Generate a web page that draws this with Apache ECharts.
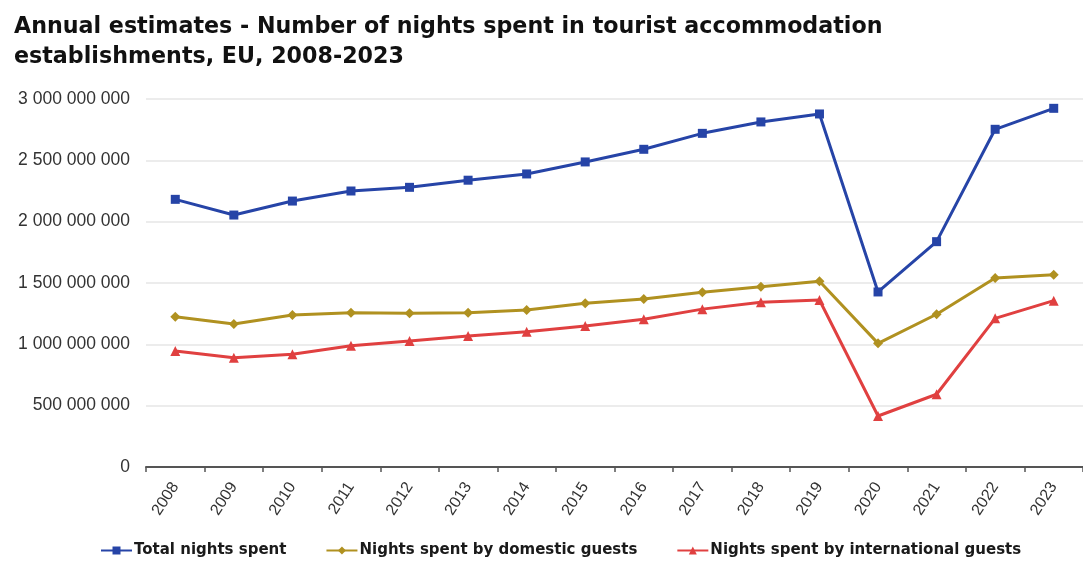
<!DOCTYPE html>
<html>
<head>
<meta charset="utf-8">
<script src="https://cdn.jsdelivr.net/npm/echarts@6/dist/echarts.min.js"></script>
<style>
  html, body { margin: 0; padding: 0; background: #ffffff; }
  #chart { width: 1083px; height: 561px; }
</style>
</head>
<body>
<div id="chart"></div>
<script>
// Years on the category axis
const years = ['2008','2009','2010','2011','2012','2013','2014','2015',
               '2016','2017','2018','2019','2020','2021','2022','2023'];

// Nights spent, EU, per year
const totalNights = [2182e6, 2054e6, 2168e6, 2250e6, 2280e6, 2338e6, 2389e6, 2487e6,
                     2590e6, 2720e6, 2813e6, 2878e6, 1427e6, 1837e6, 2753e6, 2924e6];
const domesticNights = [1225e6, 1166e6, 1239e6, 1258e6, 1253e6, 1257e6, 1280e6, 1334e6,
                        1370e6, 1425e6, 1469e6, 1514e6, 1008e6, 1245e6, 1541e6, 1568e6];
const internationalNights = [946e6, 891e6, 919e6, 989e6, 1027e6, 1068e6, 1102e6, 1150e6,
                             1205e6, 1287e6, 1344e6, 1361e6, 416e6, 593e6, 1212e6, 1356e6];

const seriesNames = ['Total nights spent', 'Nights spent by domestic guests',
                     'Nights spent by international guests'];

const FONT = '"Liberation Sans", Arial, sans-serif';
const BOLD_FONT = '"DejaVu Sans", "Liberation Sans", sans-serif';

// "3000000000" -> "3 000 000 000"
function spaced(v) {
  return String(Math.round(v)).replace(/\B(?=(\d{3})+(?!\d))/g, ' ');
}

function lineSeries(name, data, color, symbol, size) {
  return {
    name: name,
    type: 'line',
    data: data,
    symbol: symbol,
    symbolSize: size,
    showAllSymbol: true,
    lineStyle: { color: color, width: 3 },
    itemStyle: { color: color },
    emphasis: { disabled: true },
    animation: false
  };
}

const chart = echarts.init(document.getElementById('chart'), null, { renderer: 'canvas' });

chart.setOption({
  backgroundColor: '#ffffff',
  animation: false,
  title: {
    text: 'Annual estimates - Number of nights spent in tourist accommodation\nestablishments, EU, 2008-2023',
    left: 9,
    top: 7,
    textStyle: {
      fontFamily: BOLD_FONT,
      fontSize: 22.2,
      fontWeight: 'bold',
      color: '#111111',
      lineHeight: 30
    }
  },
  legend: {
    bottom: -2,
    left: 95,
    itemGap: 39,
    itemWidth: 31,
    itemHeight: 10,
    textStyle: {
      fontFamily: BOLD_FONT,
      fontSize: 15,
      fontWeight: 'bold',
      color: '#1a1a1a',
      padding: [0, 0, 0, -3]
    },
    data: seriesNames
  },
  grid: {
    left: 146,
    right: -8,
    top: 99,
    bottom: 94,
    containLabel: false
  },
  xAxis: {
    type: 'category',
    data: years,
    boundaryGap: true,
    axisLine: { show: true, lineStyle: { color: '#555555', width: 2 } },
    axisTick: { show: true, alignWithLabel: false, length: 5, lineStyle: { color: '#555555', width: 1.5 } },
    axisLabel: {
      rotate: 57,
      margin: 17,
      fontFamily: FONT,
      fontSize: 16,
      color: '#333333',
      interval: 0
    },
    splitLine: { show: false }
  },
  yAxis: {
    type: 'value',
    min: 0,
    max: 3000000000,
    interval: 500000000,
    axisLine: { show: false },
    axisTick: { show: false },
    axisLabel: {
      margin: 16,
      fontFamily: FONT,
      fontSize: 17.5,
      color: '#333333',
      formatter: spaced
    },
    splitLine: { show: true, lineStyle: { color: '#e6e6e6', width: 1.5 } }
  },
  series: [
    lineSeries(seriesNames[0], totalNights, '#2644A7', 'rect', 9),
    lineSeries(seriesNames[1], domesticNights, '#B09120', 'diamond', 10),
    lineSeries(seriesNames[2], internationalNights, '#E04040', 'triangle', 10)
  ]
});
</script>
</body>
</html>
